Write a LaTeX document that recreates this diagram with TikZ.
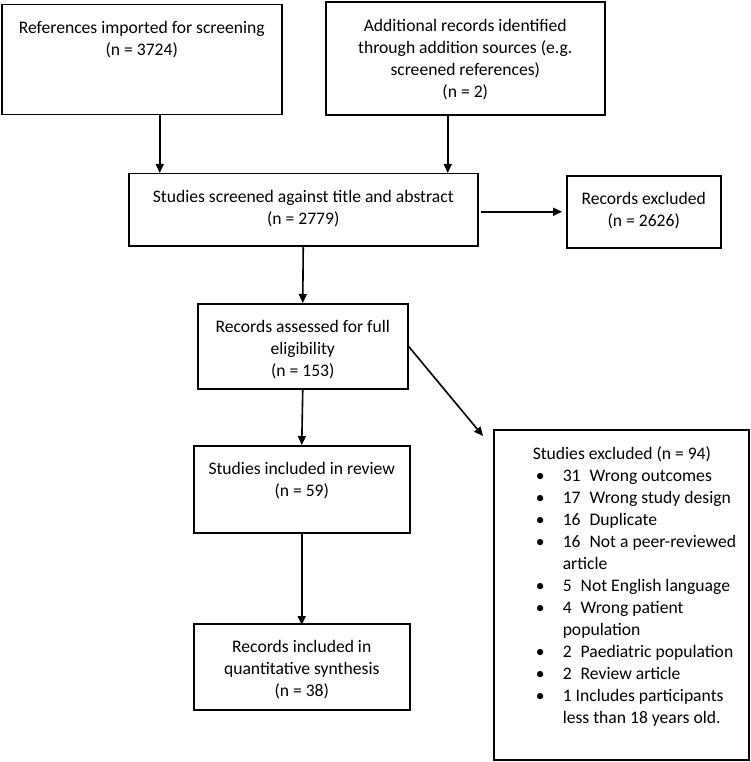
\documentclass[tikz,border=0pt]{standalone}
\usepackage{fontspec}
\setmainfont{Carlito}
\usetikzlibrary{arrows.meta,calc}
\newcommand{\boxtext}[3]{\parbox[c][#2][t]{#1}{\centering\rule{0pt}{29pt}#3\par}}
\newcommand{\bitem}[1]{\par\hangindent=30pt\hangafter=1\noindent\makebox[30pt][l]{\hspace{3pt}\textbullet}#1\par}
\newcommand{\dgap}{\hspace{9pt}}
\tikzset{
  box/.style={draw, line width=1.5pt, inner sep=0pt, anchor=north west, font=\fontsize{17.6pt}{22pt}\selectfont},
  arr/.style={-{Triangle[length=9pt,width=8pt]}, line width=1.6pt}
}
\begin{document}
\begin{tikzpicture}[x=1pt,y=-1pt]
\useasboundingbox (0,0) rectangle (751,762);
\node[box] (A) at (1,4) {\boxtext{280pt}{110pt}{References imported for screening\\(n = 3724)}};
\node[box] (B) at (325,1.5) {\boxtext{279pt}{113pt}{Additional records identified\\through addition sources (e.g.\\screened references)\\(n = 2)}};
\node[box] (C) at (128,173) {\boxtext{349pt}{72pt}{Studies screened against title and abstract\\(n = 2779)}};
\node[box] (D) at (566,175) {\boxtext{154pt}{72pt}{Records excluded\\(n = 2626)}};
\node[box] (E) at (197,303) {\boxtext{210pt}{85pt}{Records assessed for full\\eligibility\\(n = 153)}};
\node[box] (F) at (193,445) {\boxtext{216pt}{87pt}{Studies included in review\\(n = 59)}};
\node[box] (G) at (193,623) {\boxtext{216pt}{86pt}{Records included in\\quantitative synthesis\\(n = 38)}};
\node[box] (H) at (493,429) {\parbox[c][330pt][t]{255pt}{\raggedright\leftskip=39pt\rule{0pt}{30pt}Studies excluded (n = 94)\par
\bitem{31\dgap Wrong outcomes}
\bitem{17\dgap Wrong study design}
\bitem{16\dgap Duplicate}
\bitem{16\dgap Not a peer-reviewed\newline article}
\bitem{5\dgap Not English language}
\bitem{4\dgap Wrong patient\newline population}
\bitem{2\dgap Paediatric population}
\bitem{2\dgap Review article}
\bitem{1 Includes participants\newline less than 18 years old.}
}};
\draw[arr] ([xshift=18pt]A.south) -- ([xshift=18pt]A.south |- C.north);
\draw[arr] ([xshift=-17.5pt]B.south) -- ([xshift=-17.5pt]B.south |- C.north);
\draw[arr] ([xshift=2pt]C.east |- D.west) -- ([xshift=-4pt]D.west);
\draw[arr] (C.south) -- (E.north);
\draw[arr] (E.south) -- (F.north);
\draw[arr] (F.south) -- ([yshift=-2pt]G.north);
\coordinate (hend) at ([xshift=-10pt,yshift=-7pt]H.north west);
\draw[arr] (E.east) -- (hend);
\end{tikzpicture}
\end{document}
